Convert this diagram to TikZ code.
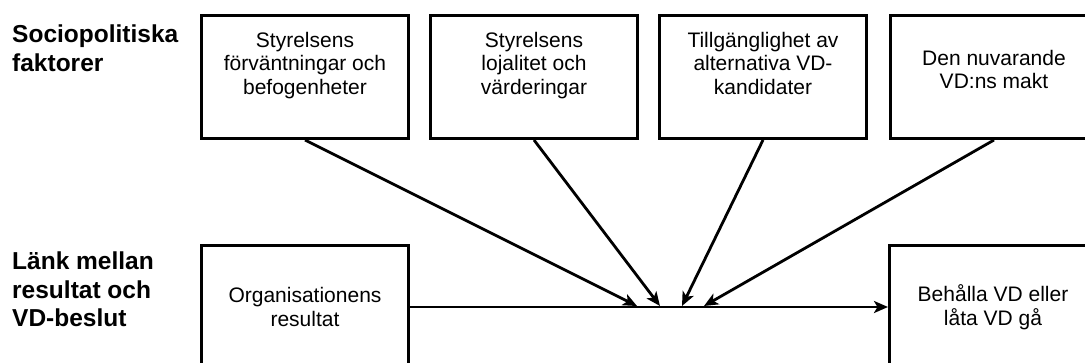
\documentclass[tikz,border=0pt]{standalone}
\usepackage{fontspec}
\setmainfont{Liberation Sans}
\usetikzlibrary{positioning,arrows.meta}

\begin{document}
\begin{tikzpicture}[x=1pt, y=-1pt,
  faktor/.style={draw, line width=3pt, minimum width=207pt, minimum height=123pt, inner sep=0pt},
  boxtext/.style={font=\fontsize{21}{23.5}\selectfont, align=center, inner sep=0pt},
  utfall/.style={faktor, boxtext},
  rubrik/.style={font=\bfseries\fontsize{24.5}{28.5}\selectfont, align=left, inner sep=0pt, anchor=north west},
  pil/.style={line width=2.8pt, -{Stealth[length=14pt, width=12pt, inset=3.5pt]}}]
\clip (0,0) rectangle (1085,362);
%
\node[rubrik] (socio) at (12,25) {Sociopolitiska\\faktorer};
\node[rubrik] (lank) at (12,252) {Länk mellan\\resultat och\\VD-beslut};
%
\node[faktor] (forv) at (305,77) {};
\node[faktor] (lojal) at (534,77) {};
\node[faktor] (kand) at (763,77) {};
\node[faktor] (makt) at (994,77) {};
\node[boxtext, below=18pt of forv.north] {Styrelsens\\förväntningar och\\befogenheter};
\node[boxtext, below=18pt of lojal.north] {Styrelsens\\lojalitet och\\värderingar};
\node[boxtext, below=18pt of kand.north] {Tillgänglighet av\\alternativa VD-\\kandidater};
\node[boxtext, below=36pt of makt.north] {Den nuvarande\\VD:ns makt};
%
\node[utfall] (org) at (305,307) {Organisationens\\resultat};
\node[utfall] (beh) at (993,307) {Behålla VD eller\\låta VD gå};
%
\coordinate (k1) at (637,306);
\coordinate (k2) at (660,306);
\coordinate (k3) at (682,306);
\coordinate (k4) at (704,306);
\draw[pil] (org.east) -- (beh.west);
\draw[pil] (forv.south) -- (k1);
\draw[pil] (lojal.south) -- (k2);
\draw[pil] (kand.south) -- (k3);
\draw[pil] (makt.south) -- (k4);
%%%%%%%%%%%%%%%%%%%%%%%%%%%%%%%
\end{tikzpicture}
\end{document}
